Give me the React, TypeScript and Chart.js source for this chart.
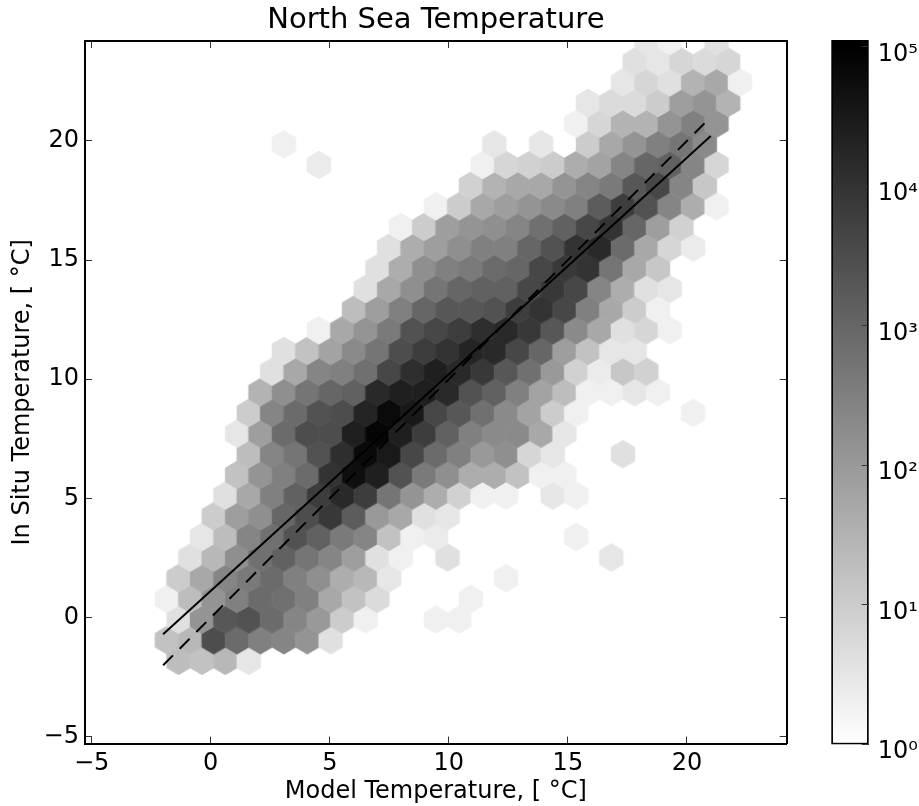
import React, { useEffect, useRef } from "react";
import { Chart, registerables } from "chart.js";

Chart.register(...registerables);

// Shade of every hexagonal bin: ten times log10(count).
// Each row lists consecutive bins, starting at the column given in hexRows.
const row04 = [13, 12, 14, 5];
const row05 = [12, 14, 35, 29, 25, 24, 21, 6];
const row06 = [6, 21, 33, 34, 29, 24, 20, 10, 3, 0, 0, 3, 3];
const row07 = [3, 13, 21, 25, 29, 28, 25, 17, 12, 7, 0, 0, 0, 3];
const row08 = [10, 17, 24, 26, 29, 25, 22, 16, 14, 5, 0, 0, 0, 0, 3];
const row09 = [6, 14, 22, 28, 31, 27, 24, 19, 6, 3, 0, 6, 0, 0, 0, 0, 0, 0, 5];
const row10 = [5, 13, 24, 28, 34, 31, 26, 24, 12, 3, 4, 0, 0, 0, 0, 0, 3];
const row11 = [10, 19, 22, 30, 35, 39, 32, 20, 17, 6, 5];
const row12 = [6, 17, 25, 31, 38, 42, 38, 27, 21, 16, 9, 3, 3, 0, 5, 3];
const row13 = [12, 21, 25, 29, 40, 47, 44, 34, 26, 22, 16, 16, 12, 3, 3];
const row14 = [13, 24, 27, 34, 41, 48, 45, 36, 29, 25, 20, 22, 8, 5, 0, 0, 6];
const row15 = [5, 19, 29, 35, 35, 44, 49, 44, 38, 31, 25, 23, 23, 17, 5];
const row16 = [10, 24, 29, 34, 35, 43, 48, 45, 36, 33, 28, 23, 18, 10, 3, 0, 0, 0, 0, 3];
const row17 = [15, 22, 27, 30, 31, 42, 44, 44, 42, 34, 31, 25, 18, 13, 3, 3, 5, 3];
const row18 = [6, 17, 24, 25, 28, 36, 41, 44, 42, 39, 33, 28, 20, 9, 4, 11, 9];
const row19 = [6, 12, 18, 23, 27, 35, 38, 40, 43, 42, 36, 30, 19, 12, 5, 5];
const row20 = [3, 17, 21, 26, 34, 36, 38, 41, 42, 39, 33, 23, 17, 6, 8, 3];
const row21 = [13, 19, 25, 30, 33, 33, 34, 38, 40, 36, 25, 17, 10, 3];
const row22 = [6, 17, 22, 27, 30, 31, 31, 36, 39, 36, 24, 16, 6, 5];
const row23 = [6, 16, 22, 25, 26, 29, 30, 36, 39, 40, 27, 17, 11];
const row24 = [6, 16, 19, 22, 25, 25, 30, 34, 40, 42, 29, 17, 8, 4];
const row25 = [3, 10, 19, 21, 22, 24, 28, 31, 36, 40, 30, 19, 9];
const row26 = [3, 10, 17, 19, 21, 23, 25, 32, 38, 34, 24, 16, 3];
const row27 = [9, 15, 17, 17, 21, 24, 26, 33, 36, 24, 11];
const row28 = [4, 0, 0, 0, 0, 0, 0, 3, 8, 9, 10, 16, 18, 24, 30, 31, 24, 8];
const row29 = [3, 0, 0, 0, 0, 0, 0, 0, 0, 5, 0, 5, 0, 10, 17, 21, 25, 27, 23];
const row30 = [3, 8, 15, 15, 21, 25, 21];
const row31 = [5, 7, 7, 10, 19, 21, 15];
const row32 = [5, 8, 6, 15, 17, 3];
const row33 = [6, 5, 8, 7, 8];
const row34 = [5, 3, 0, 6];

// [lattice row, first column, bins]
const hexRows: [number, number, number[]][] = [
  [4, 4, row04], [5, 3, row05], [6, 4, row06], [7, 3, row07], [8, 4, row08],
  [9, 4, row09], [10, 5, row10], [11, 5, row11], [12, 6, row12], [13, 6, row13],
  [14, 7, row14], [15, 6, row15], [16, 7, row16], [17, 7, row17], [18, 8, row18],
  [19, 8, row19], [20, 10, row20], [21, 11, row21], [22, 12, row22], [23, 12, row23],
  [24, 13, row24], [25, 13, row25], [26, 15, row26], [27, 16, row27], [28, 10, row28],
  [29, 8, row29], [30, 21, row30], [31, 21, row31], [32, 23, row32], [33, 23, row33],
  [34, 24, row34],
];

const fitX = [-2, 21];
const fitSolid = [-0.7, 20.2];
const fitDashed = [-2, 21];

const axisTicks = [-5, 0, 5, 10, 15, 20];
const colorTicks = [1, 10, 100, 1000, 10000, 100000];
const superscripts = ["⁰", "¹", "²", "³", "⁴", "⁵"];

const title = "North Sea Temperature";
const xTitle = "Model Temperature, [ °C]";
const yTitle = "In Situ Temperature, [ °C]";

const AX_MIN = -5.28;
const AX_MAX = 24.19;
const COLUMNS = 30;
const ROWS = 34;
const COUNT_MAX = 100000;
const COLOR_TOP = 112000;

const PLOT_W = 701.7;
const PLOT_H = 702.5;
const FONT = "'DejaVu Sans'";

function shadeOf(logTenths: number) {
  const g = Math.round(255 * (1 - logTenths / 10 / Math.log10(COUNT_MAX)));
  return `rgb(${g},${g},${g})`;
}

const spriteCache = new Map<string, HTMLCanvasElement>();
function hexSprite(color: string) {
  const hit = spriteCache.get(color);
  if (hit) return hit;
  const c = document.createElement("canvas");
  c.width = 28;
  c.height = 32;
  const g = c.getContext("2d")!;
  const hw = PLOT_W / COLUMNS / 2;
  const rowH = PLOT_H / ROWS;
  const tip = (rowH * 2) / 3;
  const side = rowH / 3;
  g.translate(14, 16);
  g.beginPath();
  g.moveTo(hw, -side);
  g.lineTo(hw, side);
  g.lineTo(0, tip);
  g.lineTo(-hw, side);
  g.lineTo(-hw, -side);
  g.lineTo(0, -tip);
  g.closePath();
  g.fillStyle = color;
  g.strokeStyle = color;
  g.lineWidth = 1;
  g.lineJoin = "round";
  g.fill();
  g.stroke();
  spriteCache.set(color, c);
  return c;
}

function buildHexes() {
  const sx = (AX_MAX - AX_MIN) / COLUMNS;
  const sy = (AX_MAX - AX_MIN) / ROWS;
  const pts: { x: number; y: number; v: number }[] = [];
  hexRows.forEach(([j, first, bins]) => {
    bins.forEach((v, k) => {
      if (v <= 0) return;
      const col = first + k + (j % 2 ? 0.5 : 0);
      pts.push({ x: AX_MIN + col * sx, y: AX_MIN + j * sy, v });
    });
  });
  return pts;
}

const minus = (v: number) => String(v).replace("-", "\u2212");
const setTicks = (values: number[]) => (s: any) => {
  s.ticks = values.map((value) => ({ value }));
};

const tickGrid = {
  drawOnChartArea: false,
  drawTicks: true,
  tickLength: -7,
  tickWidth: 1,
  tickColor: "#333",
  z: 1,
};
const frame = { display: true, color: "#000", width: 2, z: 1 };

export default function App() {
  const mainRef = useRef<HTMLCanvasElement>(null);
  const barRef = useRef<HTMLCanvasElement>(null);

  useEffect(() => {
    const hexes = buildHexes();
    const sprites = hexes.map((h) => hexSprite(shadeOf(h.v)));
    const tickFont = { family: FONT, size: 24 };
    const titleFont = { family: FONT, size: 24, weight: "normal" as const };

    const main = new Chart(mainRef.current!, {
      type: "scatter",
      data: {
        datasets: [
          {
            label: "fit",
            data: fitX.map((x, i) => ({ x, y: fitSolid[i] })),
            showLine: true,
            borderColor: "#000",
            borderWidth: 2,
            pointRadius: 0,
            order: 1,
          },
          {
            label: "identity",
            data: fitX.map((x, i) => ({ x, y: fitDashed[i] })),
            showLine: true,
            borderColor: "#000",
            borderWidth: 2,
            borderDash: [14, 9.5],
            pointRadius: 0,
            order: 1,
          },
          {
            label: "counts",
            data: hexes.map((h) => ({ x: h.x, y: h.y })),
            showLine: false,
            pointStyle: (ctx: any) => sprites[ctx.dataIndex],
            pointRadius: 12,
            order: 2,
          } as any,
        ],
      },
      options: {
        animation: false,
        responsive: false,
        events: [],
        layout: { padding: { top: 0, left: 0, right: 919 - 786.7, bottom: 0 } },
        plugins: {
          legend: { display: false },
          tooltip: { enabled: false },
          title: {
            display: true,
            fullSize: false,
            text: title,
            color: "#000",
            font: { family: FONT, size: 29, weight: "normal" },
            padding: { top: 3, bottom: 3.2 },
          },
        },
        scales: {
          x: {
            type: "linear",
            min: AX_MIN,
            max: AX_MAX,
            afterBuildTicks: setTicks(axisTicks),
            afterFit: (s: any) => {
              s.height = 62.5;
            },
            grid: tickGrid,
            border: frame,
            ticks: {
              color: "#000",
              font: tickFont,
              padding: 13,
              maxRotation: 0,
              autoSkip: false,
              callback: (v: any) => minus(v),
            },
            title: {
              display: true,
              text: xTitle,
              color: "#000",
              font: titleFont,
              padding: { top: 0, bottom: 0 },
            },
          },
          x2: {
            type: "linear",
            position: "top",
            min: AX_MIN,
            max: AX_MAX,
            afterBuildTicks: setTicks(axisTicks),
            afterFit: (s: any) => {
              s.height = 0;
            },
            grid: tickGrid,
            border: frame,
            ticks: { display: false },
          },
          y: {
            type: "linear",
            min: AX_MIN,
            max: AX_MAX,
            afterBuildTicks: setTicks(axisTicks),
            afterFit: (s: any) => {
              s.width = 85;
            },
            grid: tickGrid,
            border: frame,
            ticks: {
              color: "#000",
              font: tickFont,
              padding: 13,
              autoSkip: false,
              callback: (v: any) => minus(v),
            },
            title: {
              display: true,
              text: yTitle,
              color: "#000",
              font: titleFont,
              padding: { top: 8, bottom: 0 },
            },
          },
          y2: {
            type: "linear",
            position: "right",
            min: AX_MIN,
            max: AX_MAX,
            afterBuildTicks: setTicks(axisTicks),
            afterFit: (s: any) => {
              s.width = 0;
            },
            grid: tickGrid,
            border: frame,
            ticks: { display: false },
          },
        },
      } as any,
    });

    const bar = new Chart(barRef.current!, {
      type: "bar",
      data: {
        labels: ["count"],
        datasets: [
          {
            data: [[1, COLOR_TOP]] as any,
            barPercentage: 1,
            categoryPercentage: 1,
            borderColor: "#000",
            borderWidth: 2,
            borderSkipped: false,
            backgroundColor: (ctx: any) => {
              const a = ctx.chart.chartArea;
              if (!a) return "#888";
              const y = ctx.chart.scales.y;
              const g = ctx.chart.ctx.createLinearGradient(0, y.getPixelForValue(1), 0, y.getPixelForValue(COUNT_MAX));
              g.addColorStop(0, "#fff");
              g.addColorStop(1, "#000");
              return g;
            },
          },
        ],
      },
      options: {
        animation: false,
        responsive: false,
        events: [],
        layout: { padding: { top: 40, left: 31.3, right: 0, bottom: 61.5 } },
        plugins: { legend: { display: false }, tooltip: { enabled: false }, title: { display: false } },
        scales: {
          x: { display: false },
          y: {
            type: "logarithmic",
            position: "right",
            min: 1,
            max: COLOR_TOP,
            afterBuildTicks: setTicks(colorTicks),
            afterFit: (s: any) => {
              s.width = 50.3;
            },
            grid: tickGrid,
            border: { display: false },
            ticks: {
              color: "#000",
              font: { family: FONT, size: 24, lineHeight: "15px" },
              padding: 16,
              autoSkip: false,
              callback: (v: any) => ["", "10" + superscripts[Math.round(Math.log10(v))]],
            },
          },
        },
      } as any,
    });

    return () => {
      main.destroy();
      bar.destroy();
    };
  }, []);

  return (
    <div style={{ position: "fixed", left: 0, top: 0, width: 919, height: 806, background: "#fff" }}>
      <canvas ref={mainRef} width={919} height={806} style={{ position: "absolute", left: 0, top: 0 }} />
      <canvas ref={barRef} width={119} height={806} style={{ position: "absolute", left: 800, top: 0 }} />
    </div>
  );
}
